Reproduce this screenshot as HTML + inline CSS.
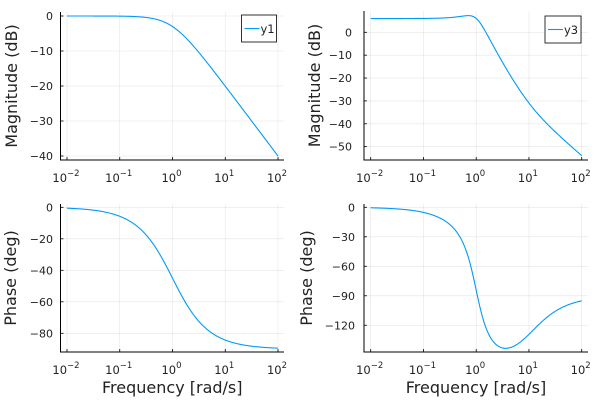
<!DOCTYPE html>
<html><head><meta charset="utf-8"><style>
html,body{margin:0;padding:0;background:#fff;}
svg{display:block;font-family:"DejaVu Sans","Liberation Sans",sans-serif;}
</style></head><body>
<svg id="s" width="600" height="400" viewBox="0 0 600 400" xmlns="http://www.w3.org/2000/svg"></svg>
<script>
const s=document.getElementById('s');let h='';
const C='#009af9';
function cx(o,w){return o+52.75*(Math.log10(w)+2);}
function panel(p){
 for(let k=-2;k<=2;k++){const x=p.x0+52.75*(k+2);
  h+=`<line x1="${x}" y1="${p.top}" x2="${x}" y2="${p.bot}" stroke="#000" stroke-opacity="0.1" stroke-width="0.6"/>`;
  h+=`<line x1="${x}" y1="${p.bot}" x2="${x}" y2="${p.bot-3}" stroke="#000" stroke-width="0.8"/>`;
  h+=`<text x="${x-1}" y="${p.bot+22}" font-size="11.5" text-anchor="middle" fill="#222">10<tspan dy="-6" font-size="8.5">${k<0?'−'+(-k):k}</tspan></text>`;}
 for(const t of p.ticks){const y=p.fy(t);
  h+=`<line x1="${p.left}" y1="${y}" x2="${p.right}" y2="${y}" stroke="#000" stroke-opacity="0.1" stroke-width="0.6"/>`;
  h+=`<line x1="${p.left}" y1="${y}" x2="${p.left+3}" y2="${y}" stroke="#000" stroke-width="0.8"/>`;
  h+=`<text x="${p.lx}" y="${y+4}" font-size="11" text-anchor="end" fill="#222">${t<0?'−'+(-t):t}</text>`;}
 h+=`<polyline fill="none" stroke="#000" stroke-width="1" points="${p.left},${p.top} ${p.left},${p.bot} ${p.right},${p.bot}"/>`;
 let pts=[];for(let i=0;i<=400;i++){const w=Math.pow(10,-2+4*i/400);pts.push(cx(p.x0,w).toFixed(2)+','+p.fy(p.f(w)).toFixed(2));}
 h+=`<polyline fill="none" stroke="${C}" stroke-width="1.1" points="${pts.join(' ')}"/>`;
 h+=`<text transform="translate(${p.yl},${(p.top+p.bot)/2}) rotate(-90)" font-size="16" text-anchor="middle" fill="#222">${p.ylab}</text>`;
 if(p.xlab)h+=`<text x="${(p.left+p.right)/2}" y="${p.bot+41}" font-size="16" text-anchor="middle" fill="#222">Frequency [rad/s]</text>`;
 if(p.leg){const L=p.leg;h+=`<rect x="${L.x}" y="${L.y}" width="${L.w}" height="27" fill="#fff" stroke="#000" stroke-width="0.8"/>`;
  h+=`<line x1="${L.x+3}" y1="${L.y+13.5}" x2="${L.x+18}" y2="${L.y+13.5}" stroke="${C}" stroke-width="1.1"/>`;
  h+=`<text x="${L.x+19}" y="${L.y+18}" font-size="11.5" fill="#222">${L.t}</text>`;}
}
function G2(w){
 const nr=1,ni=0.1*w,dr=1-w*w,di=w;
 const mag=2*Math.hypot(nr,ni)/Math.hypot(dr,di);
 const ph=(Math.atan2(ni,nr)-Math.atan2(di,dr))*180/Math.PI;return [mag,ph];}
panel({x0:67,left:60.5,right:284,top:12,bot:160,ticks:[0,-10,-20,-30,-40],fy:d=>16-3.5*d,lx:53,
 f:w=>-10*Math.log10(1+w*w),ylab:'Magnitude (dB)',yl:17,leg:{x:241.5,y:15,w:35,t:'y1'}});
panel({x0:370.7,left:364,right:588,top:11,bot:160,ticks:[0,-10,-20,-30,-40,-50],fy:d=>32.3-2.287*d,lx:352,
 f:w=>20*Math.log10(G2(w)[0]),ylab:'Magnitude (dB)',yl:320,leg:{x:545,y:16,w:36,t:'y3'}});
panel({x0:67,left:60.5,right:284,top:204,bot:352,ticks:[0,-20,-40,-60,-80],fy:d=>207.3-1.575*d,lx:53,
 f:w=>-Math.atan(w)*180/Math.PI,ylab:'Phase (deg)',yl:16,xlab:1});
panel({x0:370.7,left:364,right:588,top:204,bot:352,ticks:[0,-30,-60,-90,-120],fy:d=>207.3-0.983*d,lx:355,
 f:w=>G2(w)[1],ylab:'Phase (deg)',yl:312,xlab:1});
s.innerHTML=h;
</script>
</body></html>
